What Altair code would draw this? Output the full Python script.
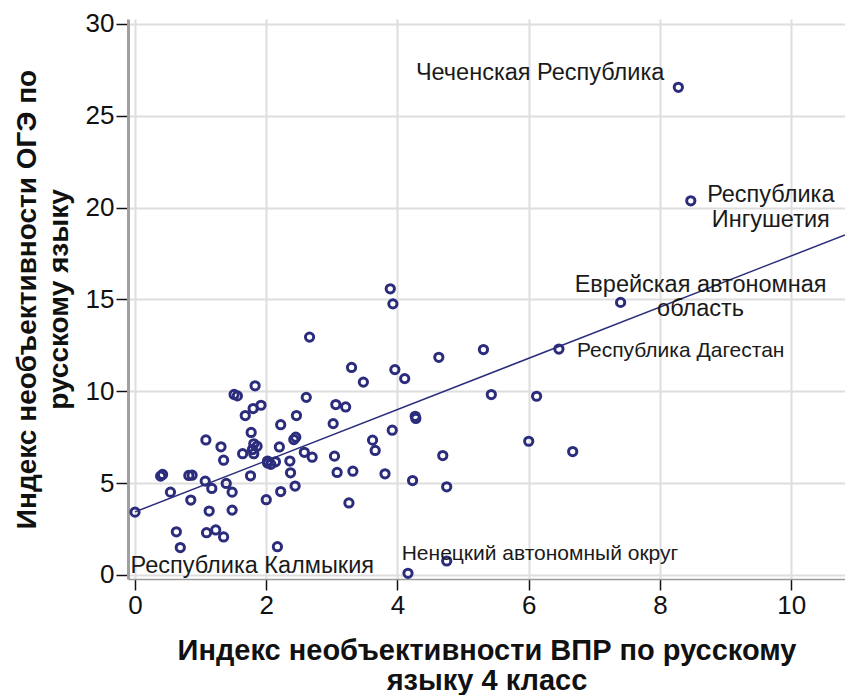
import altair as alt
import pandas as pd

# Индекс необъективности ВПР (x) и ОГЭ (y) по регионам
vpr = [0.00, 0.39, 0.42, 0.54, 0.63, 0.69, 0.82, 0.87, 0.85, 1.07,
       1.08, 1.09, 1.13, 1.17, 1.23, 1.31, 1.35, 1.35, 1.39, 1.48,
       1.48, 1.51, 1.56, 1.64, 1.68, 1.76, 1.77, 1.80, 1.81, 1.86,
       1.79, 1.81, 1.83, 1.92, 2.00, 2.02, 2.07, 2.02, 2.14, 2.17,
       2.20, 2.22, 2.22, 2.36, 2.37, 2.44, 2.45, 2.42, 2.46, 2.58,
       2.61, 2.66, 2.70, 3.02, 3.04, 3.06, 3.08, 3.21, 3.26, 3.30,
       3.32, 3.48, 3.62, 3.66, 3.81, 3.89, 3.92, 3.93, 3.96, 4.11,
       4.16, 4.23, 4.27, 4.28, 4.63, 4.69, 4.75, 4.75, 5.31, 5.43,
       6.00, 6.12, 6.46, 6.67, 7.40, 8.28, 8.47]
oge = [3.42, 5.38, 5.47, 4.51, 2.35, 1.49, 5.42, 5.43, 4.08, 5.11,
       7.35, 2.30, 3.48, 4.71, 2.45, 6.98, 6.25, 2.07, 4.98, 4.51,
       3.53, 9.83, 9.75, 6.60, 8.68, 5.40, 7.76, 9.06, 7.14, 7.01,
       6.83, 6.60, 10.30, 9.24, 4.10, 6.20, 6.02, 6.10, 6.16, 1.54,
       6.97, 8.18, 4.54, 6.20, 5.56, 4.84, 7.50, 7.37, 8.68, 6.68,
       9.67, 12.95, 6.41, 8.24, 6.47, 9.28, 5.58, 9.15, 3.92, 11.30,
       5.65, 10.50, 7.34, 6.78, 5.51, 15.58, 7.88, 14.76, 11.18, 10.69,
       0.09, 5.14, 8.64, 8.52, 11.85, 6.50, 4.80, 0.76, 12.27, 9.82,
       7.28, 9.73, 12.30, 6.72, 14.84, 26.55, 20.37]
region = [""] * len(vpr)

# подписанные регионы (индекс точки -> подпись)
labeled_index = [85, 86, 84, 82, 77, 70]
labeled_text = ["Чеченская Республика",
                "Республика\nИнгушетия",
                "Еврейская автономная\nобласть",
                "Республика Дагестан",
                "Ненецкий автономный округ",
                "Республика Калмыкия"]
for i, t in zip(labeled_index, labeled_text):
    region[i] = t

df = pd.DataFrame({"vpr": vpr, "oge": oge, "region": region})

NAVY = "#2b2d7c"
FONT = "Liberation Sans"
X_MIN, X_MAX = -0.107, 10.82

x_enc = alt.X("vpr:Q",
              scale=alt.Scale(domain=[X_MIN, X_MAX], nice=False, zero=False),
              axis=alt.Axis(values=[0, 2, 4, 6, 8, 10], format="d",
                            title=["Индекс необъективности ВПР по русскому", "языку 4 класс"],
                            tickSize=11, labelPadding=2, titlePadding=18,
                            titleFontSize=29, titleLineHeight=30,
                            domainColor="#9a9a9a", domainWidth=1.5))
y_enc = alt.Y("oge:Q",
              scale=alt.Scale(domain=[-0.22, 30.27], nice=False, zero=False),
              axis=alt.Axis(values=[0, 5, 10, 15, 20, 25, 30], format="d",
                            title=["Индекс необъективности ОГЭ по", "русскому языку"],
                            tickSize=12, labelPadding=2, titlePadding=12,
                            titleFontSize=28, titleLineHeight=32,
                            domainColor="#a0a0a0", domainWidth=3))

base = alt.Chart(df)

fit = base.transform_regression("vpr", "oge", extent=[0, X_MAX]).mark_line(
    color=NAVY, strokeWidth=1.5, clip=True
).encode(x=x_enc, y=y_enc)

pts = base.mark_point(shape="circle", filled=False, size=68, strokeWidth=3,
                      color=NAVY, opacity=1).encode(x=x_enc, y=y_enc)


def lab(name, size, **kw):
    return base.transform_filter(alt.datum.region == name).mark_text(
        font=FONT, fontSize=size, color="#1a1a1a", lineBreak="\n", **kw
    ).encode(x="vpr:Q", y="oge:Q", text="region:N")


labels = [
    lab(labeled_text[0], 23.5, align="right", baseline="middle", dx=-14, dy=-14),
    lab(labeled_text[1], 23.5, align="center", baseline="top", dx=80, dy=-18, lineHeight=25),
    lab(labeled_text[2], 23.5, align="center", baseline="top", dx=80, dy=-29, lineHeight=24),
    lab(labeled_text[3], 21, align="left", baseline="middle", dx=18, dy=2),
    lab(labeled_text[4], 21, align="left", baseline="middle", dx=-45, dy=-7),
    lab(labeled_text[5], 23.5, align="right", baseline="middle", dx=-34, dy=-7),
]

chart = alt.layer(fit, pts, *labels).properties(
    width=717, height=560,
    padding={"left": 5, "top": 2, "right": 0, "bottom": 0},
).configure_view(stroke=None).configure_axis(
    labelFont=FONT, titleFont=FONT, labelFontSize=26,
    titleFontWeight="bold", labelColor="#111", titleColor="#111",
    tickColor="#111", tickWidth=1.5, gridColor="#dedede", gridWidth=2,
)

chart.save("out.html", embed_options={"renderer": "svg", "actions": False})
